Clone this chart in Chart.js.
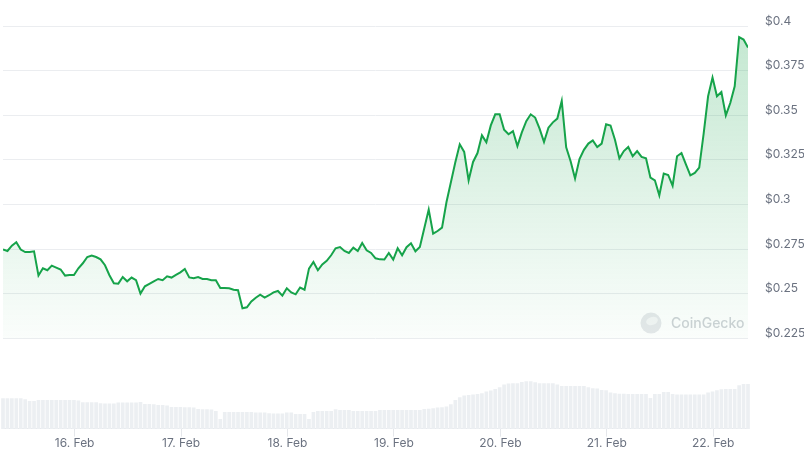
<!DOCTYPE html>
<html>
<head>
<meta charset="utf-8">
<title>Price chart</title>
<script src="https://cdn.jsdelivr.net/npm/chart.js@4.4.1/dist/chart.umd.min.js"></script>
<style>
  html, body { margin: 0; padding: 0; background: #fff; }
  #wrap { position: relative; width: 810px; height: 457px; }
</style>
</head>
<body>
<div id="wrap"><canvas id="priceChart"></canvas></div>
<script>
// one point per hour, hours counted from 16 Feb 00:00
var startHour = -16.15;
var dayHours = [0, 24, 48, 72, 96, 120, 144];
var dayLabels = ['16. Feb', '17. Feb', '18. Feb', '19. Feb', '20. Feb', '21. Feb', '22. Feb'];
var priceTicks = [0.225, 0.25, 0.275, 0.3, 0.325, 0.35, 0.375, 0.4];

var prices = [
  0.2747, 0.2739, 0.2769, 0.2788, 0.2747, 0.2733, 0.2733, 0.2737, 0.2601, 0.2642,
  0.2631, 0.2657, 0.2646, 0.2635, 0.2601, 0.2604, 0.2604, 0.2642, 0.2670, 0.2705,
  0.2713, 0.2705, 0.2692, 0.2659, 0.2603, 0.2558, 0.2556, 0.2593, 0.2569, 0.2590,
  0.2575, 0.2500, 0.2541, 0.2555, 0.2569, 0.2582, 0.2575, 0.2597, 0.2590, 0.2605,
  0.2619, 0.2638, 0.2591, 0.2586, 0.2593, 0.2582, 0.2582, 0.2575, 0.2575, 0.2531,
  0.2531, 0.2530, 0.2522, 0.2519, 0.2418, 0.2423, 0.2456, 0.2477, 0.2494, 0.2478,
  0.2491, 0.2507, 0.2515, 0.2489, 0.2530, 0.2507, 0.2496, 0.2534, 0.2522, 0.2640,
  0.2677, 0.2631, 0.2664, 0.2684, 0.2715, 0.2754, 0.2761, 0.2739, 0.2728, 0.2758,
  0.2739, 0.2784, 0.2743, 0.2728, 0.2698, 0.2692, 0.2691, 0.2728, 0.2691, 0.2754,
  0.2715, 0.2760, 0.2782, 0.2737, 0.2761, 0.2866, 0.2971, 0.2836, 0.2851, 0.2870,
  0.3012, 0.3124, 0.3236, 0.3337, 0.3294, 0.3135, 0.3238, 0.3288, 0.3387, 0.3348,
  0.3443, 0.3505, 0.3505, 0.3419, 0.3393, 0.3411, 0.3327, 0.3404, 0.3467, 0.3505,
  0.3487, 0.3425, 0.3350, 0.3430, 0.3460, 0.3481, 0.3580, 0.3320, 0.3242, 0.3145,
  0.3254, 0.3306, 0.3341, 0.3359, 0.3322, 0.3341, 0.3449, 0.3442, 0.3363, 0.3258,
  0.3299, 0.3322, 0.3270, 0.3299, 0.3266, 0.3258, 0.3150, 0.3135, 0.3051, 0.3173,
  0.3165, 0.3105, 0.3270, 0.3288, 0.3225, 0.3163, 0.3176, 0.3206, 0.3397, 0.3606,
  0.3711, 0.3606, 0.3630, 0.3499, 0.3568, 0.3662, 0.3938, 0.3924, 0.3879
];

// hourly volume, millions USD
var volumes = [
  30, 30, 30, 30, 30, 29, 27.3, 27.3, 28.3, 28.3,
  28.3, 28.3, 28.3, 28.3, 28.3, 28.3, 28.3, 27.7, 26, 26,
  26, 26, 25, 24.7, 24.7, 24.7, 25.7, 25.7, 25.7, 25.7,
  25.7, 26.3, 24.3, 24.3, 24, 23.3, 23.3, 22.7, 21.3, 21.3,
  21.3, 21, 21, 20.7, 19.3, 19, 19, 18.7, 17.3, 9.3,
  16.3, 16.3, 16.3, 16.3, 16.3, 16.3, 16.3, 15.7, 15.7, 15.7,
  15, 14.7, 14.7, 14.7, 15.7, 15.7, 14.3, 14.3, 14.3, 9.3,
  16.3, 17.3, 17.3, 17.3, 17.3, 19, 18.3, 18.3, 18.3, 17.3,
  17.3, 17.3, 17.3, 17.3, 17.3, 18.3, 18.3, 18.3, 18.3, 18.3,
  18.3, 18.3, 18.3, 18.3, 18.3, 19.3, 19.5, 20, 20.7, 21,
  21.7, 24, 28.3, 31, 32.7, 33.3, 33.7, 34.3, 35, 36.7,
  37.7, 39.3, 41, 43.7, 44.7, 45, 45, 46.3, 47, 47,
  46, 45, 45, 45, 45, 43.7, 42.3, 42.3, 42.3, 42.3,
  42.3, 42.3, 41, 40, 39.7, 38.3, 38, 35.7, 35, 34.5,
  34.5, 34.3, 34.3, 34.3, 34.3, 34.3, 30.3, 34.3, 34.3, 36.3,
  36.3, 34.3, 33.7, 33.7, 33.7, 33.7, 33.7, 33.7, 33.7, 35.7,
  36.7, 38, 39, 39.3, 39.3, 39.3, 43, 44.3, 44.3
];

var lineGreen = '#16a34a';
var tickGrey = '#6b7280';

function areaFill(context) {
  var chart = context.chart;
  if (!chart.chartArea) return 'rgba(22,163,74,0.1)';
  var y = chart.scales.y;
  var g = chart.ctx.createLinearGradient(0, y.getPixelForValue(0.4), 0, y.getPixelForValue(0.225));
  g.addColorStop(0, 'rgba(22,163,74,0.26)');
  g.addColorStop(1, 'rgba(22,163,74,0.02)');
  return g;
}

// faint CoinGecko mark in the lower right of the price pane
var watermark = {
  id: 'watermark',
  beforeDatasetsDraw: function (chart) {
    var ctx = chart.ctx;
    var area = chart.chartArea;
    var cy = chart.scales.y.getPixelForValue(0.2335);
    var cx = area.right - 97;
    ctx.save();
    ctx.fillStyle = '#e6e8eb';
    ctx.beginPath();
    ctx.arc(cx, cy, 10.5, 0, Math.PI * 2);
    ctx.fill();
    ctx.fillStyle = '#f4f5f6';
    ctx.beginPath();
    ctx.ellipse(cx + 1, cy - 2, 6, 4, -0.3, 0, Math.PI * 2);
    ctx.fill();
    ctx.fillStyle = '#cfd3d7';
    ctx.font = '500 14px Inter, "Open Sans", sans-serif';
    ctx.textBaseline = 'middle';
    ctx.fillText('CoinGecko', cx + 20, cy + 1);
    ctx.restore();
  }
};

var points = prices.map(function (p, i) { return { x: startHour + i, y: p }; });
var bars = volumes.map(function (v, i) { return { x: startHour + i, y: v }; });

var ctx = document.getElementById('priceChart');
var myChart = new Chart(ctx, {
  data: {
    datasets: [{
      type: 'line',
      label: 'Price',
      data: points,
      yAxisID: 'y',
      borderColor: lineGreen,
      borderWidth: 2,
      pointRadius: 0,
      tension: 0,
      fill: { value: 0.225 },
      backgroundColor: areaFill,
      order: 1
    }, {
      type: 'bar',
      label: 'Volume',
      data: bars,
      yAxisID: 'yv',
      backgroundColor: '#eceff2',
      barThickness: 3,
      clip: 4,
      order: 2
    }]
  },
  options: {
    responsive: true,
    maintainAspectRatio: false,
    animation: false,
    layout: { padding: { left: 3, right: 6, top: 26, bottom: 6 } },
    plugins: {
      legend: { display: false },
      tooltip: { enabled: false }
    },
    scales: {
      x: {
        type: 'linear',
        offset: false,
        min: startHour,
        max: startHour + prices.length - 1,
        afterBuildTicks: function (scale) {
          scale.ticks = dayHours.map(function (h) { return { value: h }; });
        },
        ticks: {
          color: tickGrey,
          font: { family: 'Inter', size: 12 },
          padding: 0,
          maxRotation: 0,
          autoSkip: false,
          callback: function (value, index) { return dayLabels[index]; }
        },
        grid: { offset: false, drawOnChartArea: false, drawTicks: true, tickLength: 8, color: '#e5e7eb' },
        border: { display: true, color: '#e5e7eb' }
      },
      y: {
        position: 'right',
        min: 0.17434,
        max: 0.4,
        afterBuildTicks: function (scale) {
          scale.ticks = priceTicks.map(function (v) { return { value: v }; });
        },
        afterFit: function (scale) {
          scale.width = 56;
        },
        ticks: {
          color: tickGrey,
          font: { family: 'Inter', size: 12 },
          padding: 17,
          labelOffset: -5,
          callback: function (value) { return '$' + value; }
        },
        grid: { color: '#ebedf0', drawTicks: false },
        border: { display: false }
      },
      yv: {
        display: false,
        min: 0,
        max: 403
      }
    }
  },
  plugins: [watermark]
});
</script>
</body>
</html>
